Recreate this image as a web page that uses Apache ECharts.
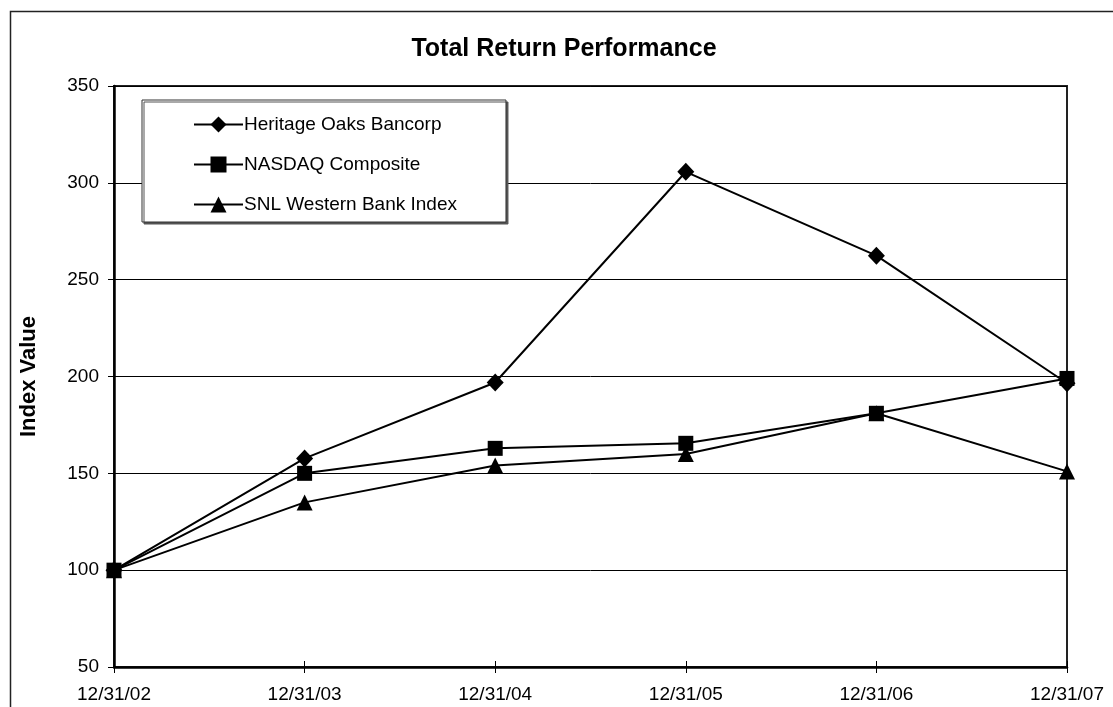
<!DOCTYPE html>
<html>
<head>
<meta charset="utf-8">
<title>Total Return Performance</title>
<script src="https://cdn.jsdelivr.net/npm/echarts@6/dist/echarts.min.js"></script>
<style>
  html, body { margin: 0; padding: 0; background: #fff; }
  #main { width: 1113px; height: 707px; }
</style>
</head>
<body>
<div id="main"></div>
<script>
// dates on the x axis
var dates = ['12/31/02', '12/31/03', '12/31/04', '12/31/05', '12/31/06', '12/31/07'];
// index values
var heritage = [100, 157.7, 196.9, 305.7, 262.4, 196.5];
var nasdaq = [100, 150, 162.9, 165.5, 181, 199];
var snl = [100, 135, 154, 160, 181, 151];
// y axis ticks
var yMin = 50, yMax = 350, yStep = 50;

var font = 'Liberation Sans, Arial, sans-serif';
var myChart = echarts.init(document.getElementById('main'));

function lineSeries(name, data, symbol, size) {
    return {
        name: name,
        type: 'line',
        data: data,
        symbol: symbol,
        symbolSize: size,
        showAllSymbol: true,
        lineStyle: { color: '#000', width: 2 },
        itemStyle: { color: '#000', borderWidth: 0 },
        emphasis: { disabled: true },
        animation: false
    };
}

var option = {
    backgroundColor: '#fff',
    animation: false,
    title: {
        text: 'Total Return Performance',
        left: 564,
        top: 37,
        textAlign: 'center',
        padding: 0,
        textStyle: { fontFamily: font, fontSize: 25, fontWeight: 'bold', color: '#000' }
    },
    legend: {
        orient: 'vertical',
        left: 142,
        top: 100,
        padding: [15, 49, 8, 51],
        itemGap: 21,
        itemWidth: 49,
        itemHeight: 20,
        backgroundColor: '#fff',
        borderColor: '#333',
        borderWidth: 1,
        shadowColor: '#555',
        shadowOffsetX: 2,
        shadowOffsetY: 2,
        shadowBlur: 0,
        textStyle: { fontFamily: font, fontSize: 19, color: '#000', padding: [0, 0, 0, -4] },
        data: ['Heritage Oaks Bancorp', 'NASDAQ Composite', 'SNL Western Bank Index']
    },
    grid: {
        left: 114, top: 86, right: 46, bottom: 40,
        show: true,
        borderColor: '#222',
        borderWidth: 2
    },
    xAxis: [{
        type: 'category',
        data: dates,
        boundaryGap: false,
        axisLine: { lineStyle: { color: '#000', width: 2.5 } },
        axisTick: { show: true, length: 6, lineStyle: { color: '#000' } },
        axisLabel: { fontFamily: font, fontSize: 19, color: '#000', margin: 18 }
    }, {
        type: 'category',
        data: dates,
        position: 'bottom',
        boundaryGap: false,
        axisLine: { show: false },
        axisTick: { show: true, inside: true, length: 6, lineStyle: { color: '#000' } },
        axisLabel: { show: false }
    }],
    yAxis: {
        type: 'value',
        min: yMin,
        max: yMax,
        interval: yStep,
        name: 'Index Value',
        nameLocation: 'middle',
        nameRotate: 90,
        nameGap: 74,
        nameTextStyle: { fontFamily: font, fontSize: 22, fontWeight: 'bold', color: '#000' },
        axisLine: { show: true, lineStyle: { color: '#000', width: 2.5 } },
        axisTick: { show: true, length: 6, lineStyle: { color: '#000' } },
        axisLabel: { fontFamily: font, fontSize: 19, color: '#000', margin: 15 },
        splitLine: { show: true, lineStyle: { color: '#000', width: 1 } }
    },
    graphic: [{
        type: 'rect',
        silent: true,
        shape: { x: 10.5, y: 11.5, width: 1200, height: 800 },
        style: { fill: null, stroke: '#222', lineWidth: 1.5 }
    }],
    series: [
        lineSeries('Heritage Oaks Bancorp', heritage, 'diamond', [17, 18]),
        lineSeries('NASDAQ Composite', nasdaq, 'rect', 15),
        lineSeries('SNL Western Bank Index', snl, 'triangle', 16)
    ]
};
myChart.setOption(option);
</script>
</body>
</html>
